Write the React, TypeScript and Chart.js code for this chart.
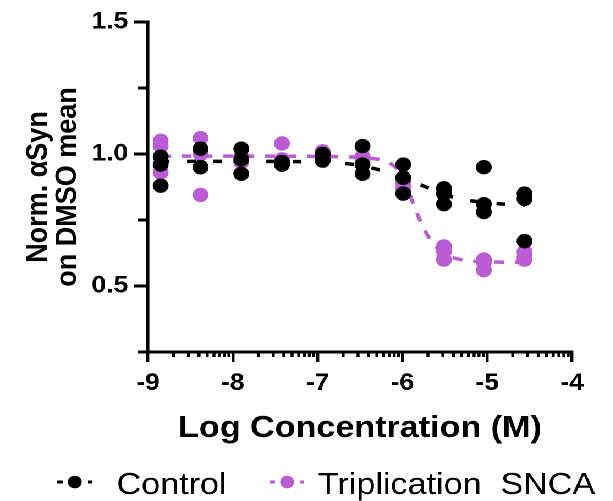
import React, { useEffect, useRef } from 'react';
import { Chart, registerables } from 'chart.js';

Chart.register(...registerables);

// ---- Data ----
const concLog = [-8.85, -8.38, -7.9, -7.42, -6.94, -6.47, -5.99, -5.51, -5.04, -4.56];

const controlRep1 = [0.99, 1.02, 1.02, 0.97, 1.0, 1.03, 0.96, 0.87, 0.95, 0.85];
const controlRep2 = [0.96, 0.95, 0.98, 0.96, 0.98, 0.96, 0.91, 0.85, 0.81, 0.83];
const controlRep3 = [0.88, 0.95, 0.925, 0.96, 0.975, 0.925, 0.85, 0.81, 0.78, 0.67];

const sncaRep1 = [1.05, 1.06, 0.99, 1.04, 1.01, 0.99, 0.91, 0.65, 0.6, 0.63];
const sncaRep2 = [1.03, 1.0, 0.97, 0.98, 1.0, 0.98, 0.89, 0.63, 0.59, 0.61];
const sncaRep3 = [0.93, 0.845, 0.97, 0.97, 0.99, 0.97, 0.87, 0.6, 0.56, 0.6];

const fitX = [-8.85, -8, -7, -6.75, -6.5, -6.25, -6.1, -6.0, -5.9, -5.8, -5.7, -5.6, -5.5, -5.4, -5.25, -5.0, -4.75, -4.56];
const controlFit = [0.972, 0.972, 0.97, 0.966, 0.957, 0.938, 0.922, 0.91, 0.897, 0.885, 0.872, 0.86, 0.846, 0.836, 0.826, 0.815, 0.809, 0.806];
const sncaFit = [0.992, 0.992, 0.991, 0.99, 0.987, 0.977, 0.955, 0.92, 0.835, 0.755, 0.69, 0.648, 0.622, 0.607, 0.597, 0.592, 0.59, 0.59];

const seriesNames = ['Control', 'Triplication  SNCA'];
const yTickValues = [0.25, 0.5, 0.75, 1.0, 1.25, 1.5];
const yLabelled = [0.5, 1.0, 1.5];
const xTickValues = [-9, -8, -7, -6, -5, -4];

const xTitle = 'Log Concentration (M)';
const yTitle = ['Norm. αSyn', 'on DMSO mean'];

// ---- Styles ----
const BLACK = '#000000';
const PURPLE = '#BB5BD6';
const FONT = "Arial, 'Liberation Sans', Helvetica, sans-serif";
const SX = 1.1;
const W = 613;
const H = 501;
const IW = Math.round(W / SX);

function pts(xs: number[], ys: number[]) {
  return xs.map((x, i) => ({ x, y: ys[i] }));
}

const minorTicksPlugin = {
  id: 'minorTicks',
  afterDraw(chart: any) {
    const ctx = chart.ctx;
    const xs = chart.scales.x;
    const ys = chart.scales.y;
    ctx.save();
    ctx.strokeStyle = BLACK;
    ctx.lineCap = 'butt';
    ctx.lineWidth = 2.7;
    for (let d = xTickValues[0]; d < xTickValues[xTickValues.length - 1]; d++) {
      for (let k = 2; k <= 9; k++) {
        const px = xs.getPixelForValue(d + Math.log10(k));
        ctx.beginPath();
        ctx.moveTo(px, xs.top);
        ctx.lineTo(px, xs.top + 5);
        ctx.stroke();
      }
    }
    ctx.lineWidth = 3;
    for (const v of yTickValues) {
      if (yLabelled.includes(v)) continue;
      const py = ys.getPixelForValue(v);
      ctx.beginPath();
      ctx.moveTo(ys.right - 9, py);
      ctx.lineTo(ys.right, py);
      ctx.stroke();
    }
    ctx.restore();
  },
};

const legendPlugin = {
  id: 'customLegend',
  afterDraw(chart: any) {
    const ctx = chart.ctx;
    const items = [
      { label: seriesNames[0], color: BLACK, cx: 68, tx: 106 },
      { label: seriesNames[1], color: PURPLE, cx: 261, tx: 289 },
    ];
    const cy = 482;
    ctx.save();
    for (const it of items) {
      ctx.fillStyle = it.color;
      ctx.fillRect(it.cx - 16, cy - 1.5, 5, 3);
      ctx.fillRect(it.cx + 12, cy - 1.5, 3.5, 3);
      ctx.beginPath();
      ctx.arc(it.cx, cy, 6.3, 0, Math.PI * 2);
      ctx.fill();
      ctx.fillStyle = BLACK;
      ctx.font = `normal 31px ${FONT}`;
      ctx.textBaseline = 'alphabetic';
      ctx.textAlign = 'left';
      ctx.fillText(it.label, it.tx, cy + 12);
    }
    ctx.restore();
  },
};

export default function App() {
  const ref = useRef<HTMLCanvasElement | null>(null);

  useEffect(() => {
    if (!ref.current) return;
    const flat = (r1: number[], r2: number[], r3: number[]) =>
      concLog.flatMap((x, i) => [r1[i], r2[i], r3[i]].map((y) => ({ x, y })));

    const chart = new Chart(ref.current, {
      type: 'scatter',
      data: {
        datasets: [
          {
            label: seriesNames[0],
            data: flat(controlRep1, controlRep2, controlRep3),
            backgroundColor: BLACK,
            borderWidth: 0,
            pointRadius: 7.2,
            order: 0,
          },
          {
            label: seriesNames[1],
            data: flat(sncaRep1, sncaRep2, sncaRep3),
            backgroundColor: PURPLE,
            borderWidth: 0,
            pointRadius: 7.2,
            order: 1,
          },
          {
            label: seriesNames[0] + ' fit',
            data: pts(fitX, controlFit),
            showLine: true,
            pointRadius: 0,
            borderColor: BLACK,
            borderWidth: 3.5,
            borderDash: [8, 16],
            cubicInterpolationMode: 'monotone',
            order: 2,
          } as any,
          {
            label: seriesNames[1] + ' fit',
            data: pts(fitX, sncaFit),
            showLine: true,
            pointRadius: 0,
            borderColor: PURPLE,
            borderWidth: 3.5,
            borderDash: [9, 10],
            cubicInterpolationMode: 'monotone',
            order: 3,
          } as any,
        ],
      },
      options: {
        responsive: false,
        animation: false,
        devicePixelRatio: 2,
        events: [],
        layout: { padding: { top: 22, right: 37, bottom: 44, left: 0 } },
        plugins: {
          legend: { display: false },
          tooltip: { enabled: false },
        },
        scales: {
          x: {
            type: 'linear',
            min: -9,
            max: -4,
            afterBuildTicks: (s: any) => {
              s.ticks = xTickValues.map((v) => ({ value: v }));
            },
            afterFit: (s: any) => {
              s.height = 105;
            },
            ticks: {
              color: BLACK,
              padding: 7,
              font: { family: FONT, size: 24, weight: 'bold' },
              callback: (v: any) => String(v),
              maxRotation: 0,
            },
            grid: {
              drawOnChartArea: false,
              drawTicks: true,
              tickLength: 10,
              color: BLACK,
              lineWidth: 2.7,
            },
            border: { display: true, color: BLACK, width: 3 },
            title: {
              display: true,
              text: xTitle,
              color: BLACK,
              font: { family: FONT, size: 31, weight: 'bold' },
              padding: { top: 0, bottom: 10 },
            },
          },
          y: {
            type: 'linear',
            min: 0.25,
            max: 1.5,
            afterBuildTicks: (s: any) => {
              s.ticks = yTickValues.map((v) => ({ value: v }));
            },
            afterFit: (s: any) => {
              s.width = 134.5;
            },
            ticks: {
              color: BLACK,
              padding: 5,
              font: { family: FONT, size: 24, weight: 'bold' },
              callback: (v: any) => (yLabelled.includes(Number(v)) ? Number(v).toFixed(1) : ''),
            },
            grid: {
              drawOnChartArea: false,
              drawTicks: true,
              tickLength: 13,
              color: (c: any) => (c.tick && yLabelled.includes(c.tick.value) ? BLACK : 'rgba(0,0,0,0)'),
              lineWidth: 3,
            },
            border: { display: true, color: BLACK, width: 2.8 },
            title: {
              display: true,
              text: yTitle,
              color: BLACK,
              font: { family: FONT, size: 27, weight: 'bold', lineHeight: 0.98 },
              padding: { top: 22, bottom: 0 },
            },
          },
        },
      } as any,
      plugins: [minorTicksPlugin, legendPlugin],
    });
    return () => chart.destroy();
  }, []);

  return (
    <div
      style={{
        position: 'absolute',
        left: 0,
        top: 0,
        width: IW,
        height: H,
        transform: `scaleX(${SX})`,
        transformOrigin: '0 0',
        background: '#fff',
      }}
    >
      <canvas ref={ref} width={IW} height={H} style={{ width: IW, height: H, display: 'block' }} />
    </div>
  );
}
